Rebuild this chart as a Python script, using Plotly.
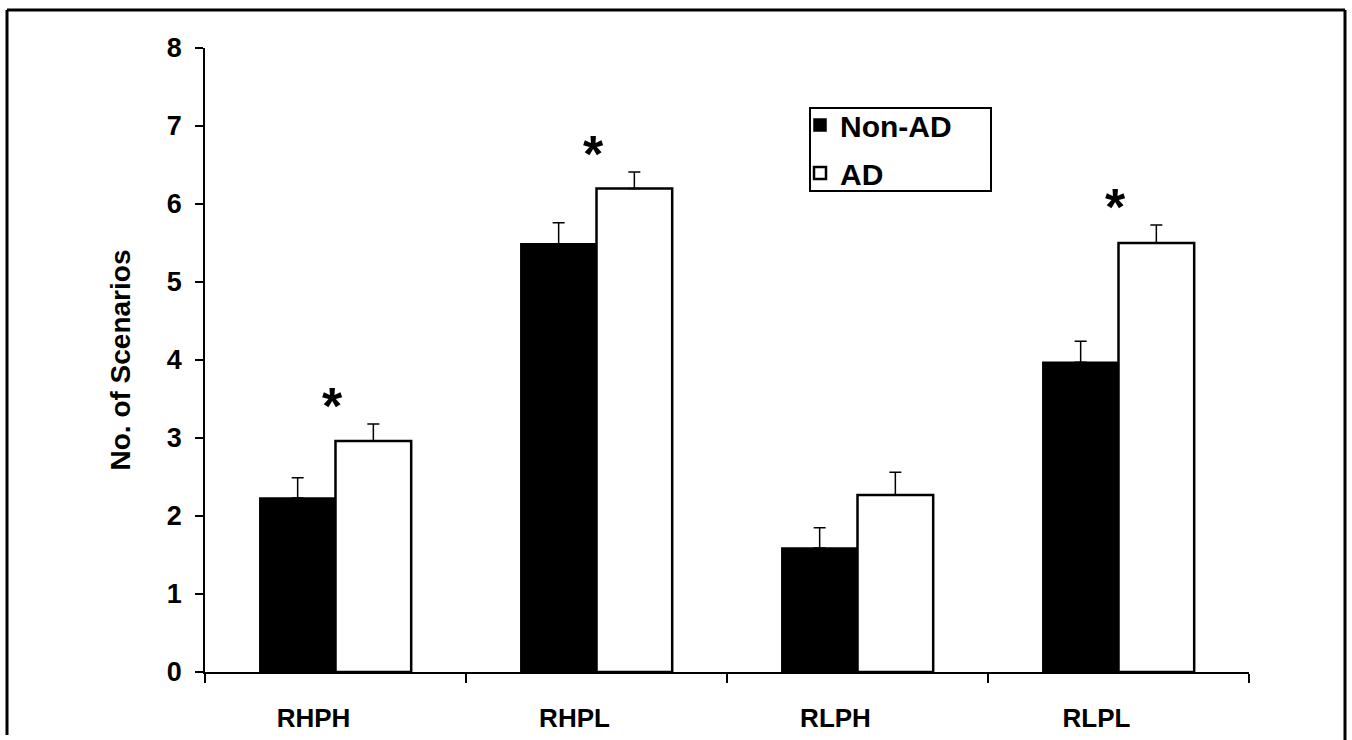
import plotly.graph_objects as go

# ---- data ----
categories = ["RHPH", "RHPL", "RLPH", "RLPL"]
non_ad = [2.23, 5.49, 1.59, 3.97]
non_ad_err = [0.26, 0.27, 0.26, 0.27]
ad = [2.96, 6.20, 2.27, 5.50]
ad_err = [0.22, 0.21, 0.29, 0.23]
significant = [True, True, False, True]
y_ticks = [0, 1, 2, 3, 4, 5, 6, 7, 8]

W, H = 1352, 740
L, R, T, B = 205, 1249, 48, 672
FONT = "Arial, Liberation Sans, sans-serif"

fig = go.Figure()
fig.add_trace(go.Bar(
    x=categories, y=non_ad, name="Non-AD", legendgroup="a",
    marker=dict(color="black", line=dict(color="black", width=1.5)),
    error_y=dict(type="data", array=non_ad_err, arrayminus=[0] * len(non_ad_err),
                 symmetric=False, color="black", thickness=1.5, width=6),
))
fig.add_trace(go.Bar(
    x=categories, y=ad, name="AD", legendgroup="b",
    marker=dict(color="white", line=dict(color="black", width=2.5)),
    error_y=dict(type="data", array=ad_err, arrayminus=[0] * len(ad_err),
                 symmetric=False, color="black", thickness=1.5, width=6),
))

# significance asterisks
for cat, v, e, s in zip(categories, ad, ad_err, significant):
    if s:
        fig.add_annotation(x=cat, y=v + e + 0.32, text="<b>*</b>", showarrow=False,
                           xshift=-3, yshift=-7,
                           font=dict(family=FONT, size=52, color="black"))

# outer frame (pixel positions converted to paper coords)
def px(x):
    return (x - L) / (R - L)

def py(y):
    return (B - y) / (B - T)

frame = dict(color="black", width=3)
fig.add_shape(type="line", xref="paper", yref="paper", x0=px(7), x1=px(7), y0=py(10), y1=py(735), line=frame)
fig.add_shape(type="line", xref="paper", yref="paper", x0=px(7), x1=px(1345), y0=py(10), y1=py(10), line=frame)
fig.add_shape(type="line", xref="paper", yref="paper", x0=px(1345), x1=px(1345), y0=py(10), y1=py(745), line=frame)
# legend box
fig.add_shape(type="rect", xref="paper", yref="paper", x0=px(810), x1=px(991), y0=py(191), y1=py(108),
              line=dict(color="black", width=2), fillcolor="rgba(0,0,0,0)")

fig.update_layout(
    width=W, height=H,
    margin=dict(l=L, r=W - R, t=T, b=H - B, autoexpand=False),
    paper_bgcolor="white", plot_bgcolor="white",
    barmode="group", bargap=0.42, bargroupgap=0,
    font=dict(family=FONT, color="black"),
    showlegend=True,
    legend=dict(
        x=px(800), y=py(99), xanchor="left", yanchor="top",
        borderwidth=0, bgcolor="rgba(0,0,0,0)",
        font=dict(family=FONT, size=30, color="black", weight="bold"),
        traceorder="grouped", tracegroupgap=6,
        itemwidth=30,
    ),
    xaxis=dict(
        type="category", range=[-0.5, 3.5], automargin=False,
        showline=True, linecolor="black", linewidth=2,
        ticks="outside", tickson="boundaries", ticklen=9, tickwidth=1.5, tickcolor="black",
        tickfont=dict(family=FONT, size=26, color="black", weight="bold"),
        ticklabelstandoff=22, ticklabelshift=-22,
        showgrid=False, zeroline=False,
    ),
    yaxis=dict(
        range=[0, 8], tickvals=y_ticks, automargin=False,
        showline=True, linecolor="black", linewidth=1.5,
        ticks="outside", ticklen=8, tickwidth=1.5, tickcolor="black",
        tickfont=dict(family=FONT, size=27, color="black", weight="bold"),
        ticklabelstandoff=8,
        showgrid=False, zeroline=False,
        title=dict(text="No. of Scenarios", standoff=28,
                   font=dict(family=FONT, size=28, color="black", weight="bold")),
    ),
)

fig.write_html("out.html", config={"displayModeBar": False},
               post_script="document.body.style.margin='0';")
